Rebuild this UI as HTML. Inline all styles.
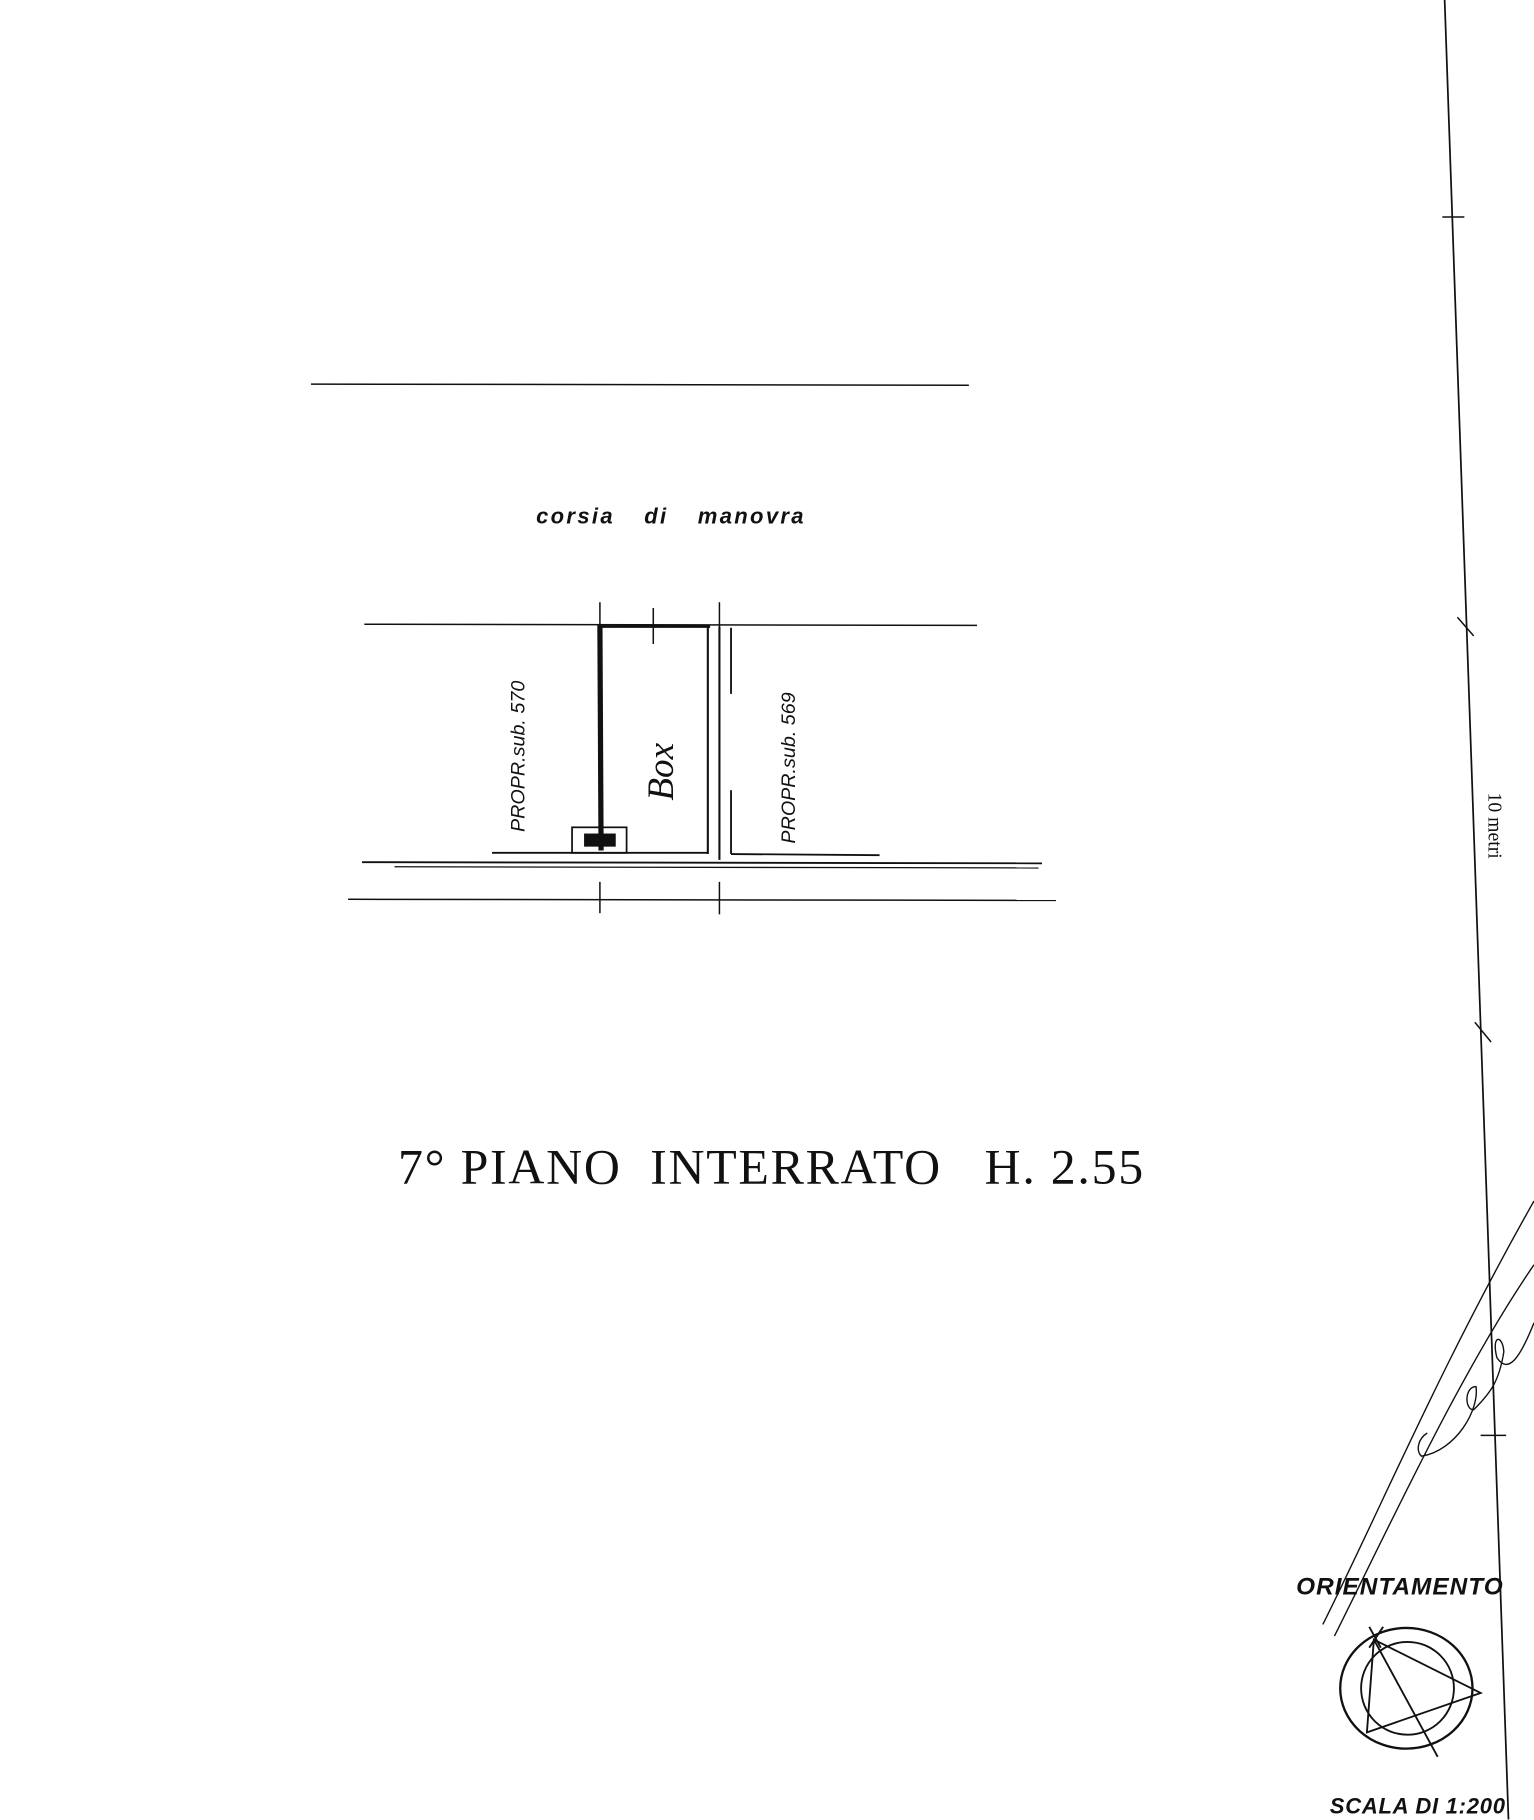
<!DOCTYPE html>
<html><head><meta charset="utf-8"><style>
html,body{margin:0;padding:0;background:#fff;}
svg{display:block;}
</style></head><body>
<svg width="1534" height="1820" viewBox="0 0 1322 1568.5" preserveAspectRatio="none" xmlns="http://www.w3.org/2000/svg">
<rect width="1322" height="1568.5" fill="#fff"/>
<g stroke="#111" fill="none" stroke-width="1.3">
<line x1="268" y1="331" x2="835" y2="332"/>
<line x1="314" y1="538" x2="842" y2="539"/>
<line x1="517" y1="519" x2="517" y2="545"/>
<line x1="563" y1="524" x2="563" y2="555"/>
<line x1="620" y1="519" x2="620" y2="545"/>
<line x1="517" y1="539" x2="518" y2="733" stroke-width="4.5"/>
<line x1="515" y1="540" x2="612" y2="540" stroke-width="2.2"/>
<line x1="610" y1="540" x2="610" y2="736" stroke-width="1.8"/>
<line x1="620" y1="540" x2="620" y2="741" stroke-width="1.8"/>
<line x1="630" y1="541" x2="630" y2="598" stroke-width="1.6"/>
<line x1="630" y1="681" x2="630" y2="736" stroke-width="1.6"/>
<line x1="424" y1="735" x2="610" y2="735" stroke-width="1.6"/>
<line x1="630" y1="736" x2="758" y2="737" stroke-width="1.6"/>
<line x1="312" y1="743" x2="898" y2="744" stroke-width="1.6"/>
<line x1="340" y1="747" x2="895" y2="748" stroke-width="1.1"/>
<line x1="300" y1="775" x2="910" y2="776"/>
<line x1="517" y1="760" x2="517" y2="787"/>
<line x1="620" y1="760" x2="620" y2="788"/>
<rect x="493" y="713" width="47" height="22" stroke-width="1.5"/>
<rect x="504" y="719" width="26" height="10" fill="#111"/>
<line x1="1245" y1="0" x2="1300" y2="1568" stroke-width="1.5"/>
<line x1="1243" y1="187" x2="1262" y2="187"/>
<line x1="1256" y1="532" x2="1270" y2="548"/>
<line x1="1271" y1="881" x2="1285" y2="898"/>
<line x1="1276" y1="1237" x2="1298" y2="1237"/>
<path d="M1140 1400 C1190 1300 1240 1180 1322 1035" stroke-width="1.2"/>
<path d="M1150 1410 C1200 1310 1260 1180 1322 1090" stroke-width="1.2"/>
<path d="M1322 1140 C1310 1170 1300 1185 1290 1170 C1285 1150 1295 1150 1296 1165 C1292 1190 1285 1200 1270 1215 C1262 1215 1262 1195 1272 1195 C1275 1215 1255 1250 1225 1255 C1220 1250 1222 1240 1230 1235" stroke-width="1.2"/>
<ellipse cx="1212" cy="1455" rx="57" ry="52" stroke-width="2"/>
<ellipse cx="1213" cy="1455" rx="40" ry="40" stroke-width="1.6"/>
<path d="M1184 1413 L1276 1459 L1178 1493 Z" stroke-width="1.6"/>
<line x1="1184" y1="1413" x2="1239" y2="1514" stroke-width="1.6"/>
<line x1="1180" y1="1402" x2="1190" y2="1420" stroke-width="1.6"/>
<line x1="1192" y1="1402" x2="1180" y2="1420" stroke-width="1.6"/>
</g>
<g fill="#111">
<text x="462" y="451" font-family="Liberation Sans, sans-serif" font-style="italic" font-weight="bold" font-size="19" letter-spacing="2" word-spacing="18">corsia di manovra</text>
<text transform="translate(452,717) rotate(-90)" font-family="Liberation Sans, sans-serif" font-style="italic" font-size="17">PROPR.sub. 570</text>
<text transform="translate(580,690) rotate(-90)" font-family="Liberation Serif, serif" font-style="italic" font-size="32">Box</text>
<text transform="translate(685,727) rotate(-90)" font-family="Liberation Sans, sans-serif" font-style="italic" font-size="17">PROPR.sub. 569</text>
<text x="343" y="1020" font-family="Liberation Serif, serif" font-size="43" letter-spacing="1.5">7° PIANO&#160; INTERRATO&#160;&#160; H. 2.55</text>
<text transform="translate(1283,683) rotate(90)" font-family="Liberation Serif, serif" font-size="17">10 metri</text>
<text x="1117" y="1374" font-family="Liberation Sans, sans-serif" font-weight="bold" font-style="italic" font-size="21" textLength="178">ORIENTAMENTO</text>
<text x="1146" y="1563" font-family="Liberation Sans, sans-serif" font-weight="bold" font-style="italic" font-size="19" textLength="151">SCALA DI 1:200</text>
</g>
</svg>
</body></html>
